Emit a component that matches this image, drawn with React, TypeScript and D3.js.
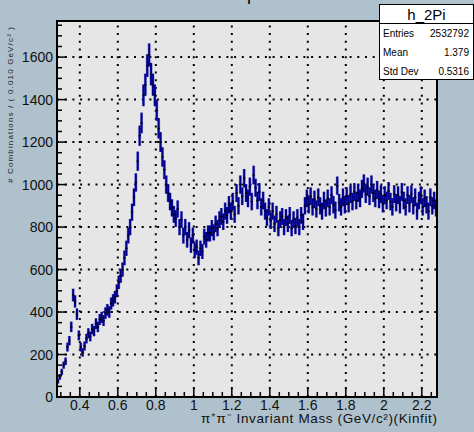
import React from "react";
import * as d3 from "d3";

// Histogram h_2Pi: bins of 0.01 GeV from 0.28 to 2.28
const binLow = 0.28;
const binWidth = 0.01;
const counts = [
  75, 95, 118, 150, 168, 235, 265, 330, 480, 450,
  390, 290, 235, 210, 240, 275, 300, 285, 320, 310,
  345, 330, 365, 375, 360, 395, 410, 400, 440, 455,
  470, 500, 540, 570, 600, 655, 700, 760, 800, 870,
  940, 1010, 1110, 1230, 1290, 1420, 1470, 1560, 1610, 1520,
  1470, 1420, 1350, 1265, 1200, 1130, 1070, 1000, 960, 920,
  890, 860, 840, 885, 800, 835, 760, 800, 740, 785,
  715, 760, 690, 705, 655, 700, 685, 755, 740, 770,
  770, 795, 775, 815, 795, 835, 850, 825, 875, 855,
  905, 875, 920, 860, 960, 900, 1000, 945, 1030, 960,
  935, 990, 920, 1045, 985, 925, 965, 895, 925, 875,
  845, 895, 830, 875, 815, 860, 795, 835, 850, 800,
  845, 815, 855, 795, 835, 805, 845, 800, 855, 825,
  900, 935, 905, 945, 895, 930, 885, 940, 900, 875,
  925, 890, 935, 895, 950, 905, 880, 995, 915, 895,
  940, 905, 945, 910, 955, 920, 965, 925, 960, 935,
  980, 1005, 955, 990, 945, 1000, 960, 935, 975, 930,
  955, 910, 950, 925, 970, 920, 895, 955, 915, 950,
  905, 965, 925, 895, 950, 910, 955, 900, 940, 875,
  925, 950, 895, 935, 905, 875, 940, 900, 925, 890,
];
const xTicks = [0.4, 0.6, 0.8, 1.0, 1.2, 1.4, 1.6, 1.8, 2.0, 2.2];
const yTicks = [0, 200, 400, 600, 800, 1000, 1200, 1400, 1600];
const histName = "h_2Pi";
const statsLabels = ["Entries", "Mean", "Std Dev"];
const statsValues = ["2532792", "1.379", "0.5316"];
const xTitle = "π⁺π⁻ Invariant Mass (GeV/c²)(Kinfit)";
const yTitle = "# Combinations / ( 0.010 GeV/c² )";

const FONT = "'Liberation Sans', Arial, Helvetica, sans-serif";

export default function App() {
  const W = 474;
  const H = 432;
  const left = 57, right = 437, top = 21, bottom = 397;
  const x = d3.scaleLinear().domain([0.28, 2.28]).range([left, right]);
  const y = d3.scaleLinear().domain([0, 1770]).range([bottom, top]);

  const xMinor = d3.range(0.3, 2.2801, 0.05);
  const yMinor = d3.range(0, 1770, 50);
  const bins = counts.map((v, i) => ({
    c: binLow + binWidth * (i + 0.5),
    v,
    e: Math.sqrt(v) * 1.35,
  }));
  const fmt = (v: number) => String(+v.toFixed(1));

  return (
    <svg
      width={W}
      height={H}
      style={{ position: "absolute", left: 0, top: 0, display: "block" }}
      fontFamily={FONT}
    >
      <defs>
        <clipPath id="frameClip">
          <rect x={left} y={top} width={right - left} height={bottom - top} />
        </clipPath>
      </defs>
      <rect x={0} y={0} width={W} height={H} fill="#afc1cc" />
      {/* title (cut off at top) */}
      <text x={247} y={0} fontSize={18} fill="#000">p</text>

      {/* frame */}
      <rect x={left} y={top} width={right - left} height={bottom - top} fill="#e6e6e6" />

      {/* grid */}
      <g stroke="#000" strokeWidth={2} strokeDasharray="2 5.7">
        {xTicks.map((t) => (
          <line key={"gx" + t} x1={x(t)} x2={x(t)} y1={bottom} y2={top} />
        ))}
        {yTicks.filter((t) => t > 0).map((t) => (
          <line key={"gy" + t} x1={left} x2={right} y1={y(t)} y2={y(t)} />
        ))}
      </g>

      {/* data */}
      <g clipPath="url(#frameClip)">
        <g stroke="#4a4ad0" strokeWidth={3} strokeOpacity={0.55}>
          {bins.map((b, i) => (
            <line key={"h" + i} x1={x(b.c)} x2={x(b.c)} y1={y(b.v - b.e)} y2={y(b.v + b.e)} />
          ))}
        </g>
        <g stroke="#00008c" strokeWidth={2}>
          {bins.map((b, i) => (
            <line key={"e" + i} x1={x(b.c)} x2={x(b.c)} y1={y(b.v - b.e)} y2={y(b.v + b.e)} />
          ))}
        </g>
        <g fill="#000">
          {bins.map((b, i) => (
            <rect key={"m" + i} x={x(b.c) - 1.1} y={y(b.v) - 0.8} width={2.2} height={1.6} />
          ))}
        </g>
      </g>

      {/* frame border */}
      <rect x={left} y={top} width={right - left} height={bottom - top} fill="none" stroke="#000" strokeWidth={2} />

      {/* ticks */}
      <g stroke="#000" strokeWidth={1.5}>
        {xMinor.map((t, i) => {
          const major = xTicks.some((m) => Math.abs(m - t) < 1e-6);
          return <line key={"tx" + i} x1={x(t)} x2={x(t)} y1={bottom} y2={bottom - (major ? 10 : 5)} />;
        })}
        {yMinor.map((t, i) => {
          const major = t % 200 === 0;
          return <line key={"ty" + i} x1={left} x2={left + (major ? 10 : 5)} y1={y(t)} y2={y(t)} />;
        })}
      </g>

      {/* tick labels */}
      <g fontSize={14} fill="#111">
        {xTicks.map((t) => (
          <text key={"lx" + t} x={x(t)} y={410} textAnchor="middle">{fmt(t)}</text>
        ))}
        {yTicks.map((t) => (
          <text key={"ly" + t} x={53} y={y(t) + 5} textAnchor="end">{t}</text>
        ))}
      </g>

      {/* axis titles */}
      <text
        x={437}
        y={422.5}
        fontSize={13.5}
        fill="#111"
        textAnchor="end"
        textLength={236}
        lengthAdjust="spacing"
      >
        {xTitle}
      </text>
      <text
        transform="translate(13,27) rotate(-90)"
        fontSize={8}
        fill="#222"
        textAnchor="end"
        textLength={156}
      >
        {yTitle}
      </text>

      {/* stats box */}
      <g>
        <rect x={379.5} y={4.5} width={94} height={75} fill="#fff" stroke="#000" strokeWidth={1} />
        <line x1={379.5} x2={473.5} y1={23.5} y2={23.5} stroke="#000" strokeWidth={1} />
        <text x={426.5} y={19.5} fontSize={15} textAnchor="middle" fill="#000">{histName}</text>
        {statsLabels.map((s, i) => (
          <g key={s} fontSize={10} fill="#000">
            <text x={383} y={36.5 + i * 19}>{s}</text>
            <text x={469} y={36.5 + i * 19} textAnchor="end">{statsValues[i]}</text>
          </g>
        ))}
      </g>
    </svg>
  );
}
